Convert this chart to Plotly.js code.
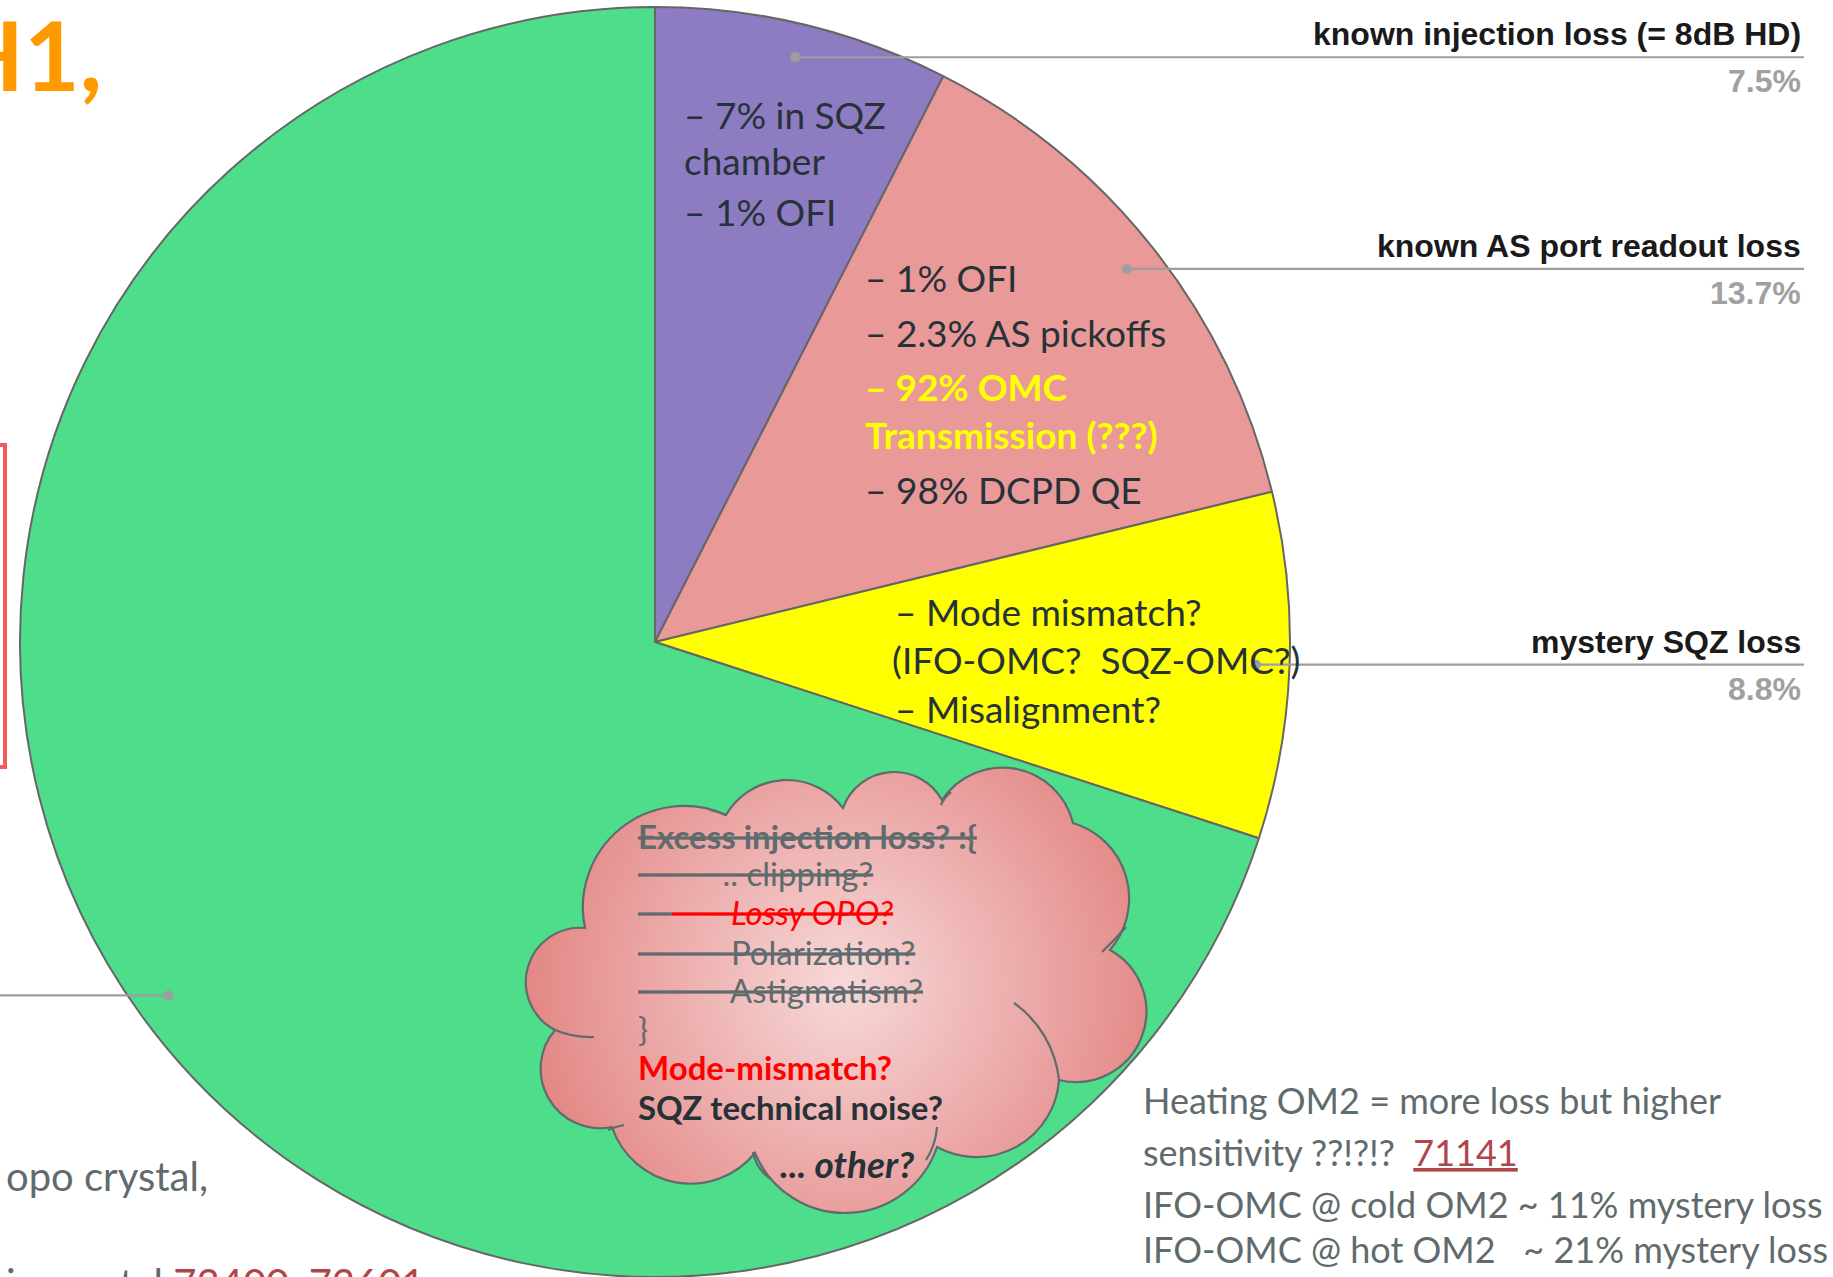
<!DOCTYPE html>
<html><head><meta charset="utf-8">
<script src="https://cdn.plot.ly/plotly-3.0.1.min.js"></script>
<style>html,body{margin:0;padding:0;background:#fff;overflow:hidden}#chart{width:1833px;height:1277px}</style>
</head><body><div id="chart"></div>
<script>
// ---------------- data ----------------
const sliceLabels = ['known injection loss (= 8dB HD)', 'known AS port readout loss', 'mystery SQZ loss', 'other'];
const sliceValues = [7.5, 13.7, 8.8, 70.0];
const sliceColors = ['#8e7cc3', '#ea9999', '#ffff00', '#4edd8b'];
const sliceLabelSide = ['right', 'right', 'right', 'left'];

const purpleNotes = ['– 7% in SQZ', 'chamber', '– 1% OFI'];
const pinkNotes = ['– 1% OFI', '– 2.3% AS pickoffs', '<b>– 92% OMC</b>', '<b>Transmission (???)</b>', '– 98% DCPD QE'];
const yellowNotes = ['– Mode mismatch?', '(IFO-OMC?\u00a0 SQZ-OMC?)', '– Misalignment?'];
const NB = n => '\u00a0'.repeat(n);
const cloudNotes = [
  '<b><s>Excess injection loss? :{</s></b>',
  '<s>' + NB(10) + '.. clipping?</s>',
  '<s>' + NB(4) + '</s><span style="color:#ff0000"><s>' + NB(7) + '<i>Lossy OPO?</i></s></span>',
  '<s>' + NB(11) + 'Polarization?</s>',
  '<s>' + NB(11) + 'Astigmatism?</s>',
  '}',
  '<b>Mode-mismatch?</b>',
  '<b>SQZ technical noise?</b>'
];
const cloudOther = '<b><i>... other?</i></b>';
const sideNotes = [
  'Heating OM2 = more loss but higher',
  'sensitivity ??!?!?\u00a0 <span style="color:#b0454a"><u>71141</u></span>',
  'IFO-OMC @ cold OM2 ~ 11% mystery loss',
  'IFO-OMC @ hot OM2' + NB(3) + '~ 21% mystery loss'
];
const leftNotes = ['opo crystal,', 'in crystal <span style="color:#b0454a"><u>73400, 73601</u></span>'];
const titleText = 'H1,';

// ---------------- layout helpers ----------------
const W = 1833, H = 1277;
const fx = x => x / W, fy = y => 1 - y / H;
const BODY = 'Lato, "Open Sans", sans-serif';
const ARIAL = '"Liberation Sans", Arial, sans-serif';
const DARK = '#263238', GREY = '#5f6b6d';

const dom = {x: [(655 - 636) / W, (655 + 636) / W], y: [0, 1270 / H]};
const cx = (dom.x[0] + dom.x[1]) / 2 * W;
const cy = H - (dom.y[0] + dom.y[1]) / 2 * H;
const R = Math.min((dom.x[1] - dom.x[0]) * W, (dom.y[1] - dom.y[0]) * H) / 2;

const annotations = [];
const shapes = [];
function note(text, x, y, size, color, anchor) {
  annotations.push({text: text, x: fx(x), y: fy(y), xref: 'paper', yref: 'paper',
    xanchor: anchor || 'left', yanchor: 'middle', showarrow: false, align: anchor || 'left',
    font: {family: BODY, size: size, color: color}});
}

// leader lines + labels, computed from the slice geometry
const total = sliceValues.reduce((a, b) => a + b, 0);
let cum = 0;
sliceValues.forEach((v, i) => {
  const mid = (cum + v / 2) / total * 2 * Math.PI;
  cum += v;
  const rr = 0.947 * R;
  const dx = cx + rr * Math.sin(mid), dy = cy - rr * Math.cos(mid);
  const xEnd = sliceLabelSide[i] === 'right' ? 1804 : -5;
  shapes.push({type: 'line', xref: 'paper', yref: 'paper', x0: fx(dx), y0: fy(dy), x1: fx(xEnd), y1: fy(dy),
    line: {color: '#9e9e9e', width: 2.2}});
  shapes.push({type: 'circle', xref: 'paper', yref: 'paper', x0: fx(dx - 5), x1: fx(dx + 5), y0: fy(dy + 5), y1: fy(dy - 5),
    fillcolor: '#9e9e9e', line: {width: 0}});
  if (sliceLabelSide[i] === 'right') {
    annotations.push({text: '<b>' + sliceLabels[i] + '</b>', x: fx(1803), y: fy(dy - 23), xref: 'paper', yref: 'paper',
      xanchor: 'right', yanchor: 'middle', showarrow: false, font: {family: ARIAL, size: 32, color: '#1a1a1a'}});
    annotations.push({text: '<b>' + (v / total * 100).toFixed(1) + '%</b>', x: fx(1803), y: fy(dy + 24), xref: 'paper', yref: 'paper',
      xanchor: 'right', yanchor: 'middle', showarrow: false, font: {family: ARIAL, size: 32, color: '#a0a0a0'}});
  }
});

// text inside slices
const purpleY = [114, 160, 211];
purpleNotes.forEach((t, i) => note(t, 682, purpleY[i], 37, DARK));
const pinkY = [277, 333, 386, 434, 489];
const pinkC = [DARK, DARK, '#ffff00', '#ffff00', DARK];
pinkNotes.forEach((t, i) => note(t, 863, pinkY[i], 37, pinkC[i]));
const yellowY = [611, 659, 708];
const yellowX = [893, 890, 893];
yellowNotes.forEach((t, i) => note(t, yellowX[i], yellowY[i], 37, DARK));

// cloud text
const cloudY = [836, 873, 912, 952, 990, 1028, 1067, 1107];
const cloudC = [GREY, GREY, GREY, GREY, GREY, GREY, '#ff0000', DARK];
cloudNotes.forEach((t, i) => note(t, 636, cloudY[i], 33, cloudC[i]));
note(cloudOther, 778, 1163, 37, DARK);

// side notes
const sideY = [1100, 1152, 1204, 1249];
sideNotes.forEach((t, i) => note(t, 1141, sideY[i], 36, GREY));
const leftY = [1176, 1283];
leftNotes.forEach((t, i) => note(t, 4, leftY[i], 40, GREY));

// title fragment
annotations.push({text: '<b>' + titleText + '</b>', x: fx(104), y: fy(54), xref: 'paper', yref: 'paper',
  xanchor: 'right', yanchor: 'middle', showarrow: false, font: {family: BODY, size: 96, color: '#ff9900'}});

// red box at left
shapes.push({type: 'rect', xref: 'paper', yref: 'paper', x0: fx(-30), x1: fx(5), y0: fy(767), y1: fy(445),
  line: {color: '#f05c5c', width: 4}});

// ---------------- cloud decoration ----------------
function circ(p1, p2, p3) {
  const [x1, y1] = p1, [x2, y2] = p2, [x3, y3] = p3;
  const d = 2 * (x1 * (y2 - y3) + x2 * (y3 - y1) + x3 * (y1 - y2));
  if (Math.abs(d) < 1e-6) return null;
  const s1 = x1 * x1 + y1 * y1, s2 = x2 * x2 + y2 * y2, s3 = x3 * x3 + y3 * y3;
  const ux = (s1 * (y2 - y3) + s2 * (y3 - y1) + s3 * (y1 - y2)) / d;
  const uy = (s1 * (x3 - x2) + s2 * (x1 - x3) + s3 * (x2 - x1)) / d;
  return {cx: ux, cy: uy, r: Math.hypot(x1 - ux, y1 - uy)};
}
function arc(p1, pm, p2) {
  const c = circ(p1, pm, p2);
  if (!c) return 'L' + p2[0] + ',' + p2[1];
  const T = 2 * Math.PI, m = a => ((a % T) + T) % T;
  const a1 = Math.atan2(p1[1] - c.cy, p1[0] - c.cx), am = Math.atan2(pm[1] - c.cy, pm[0] - c.cx), a2 = Math.atan2(p2[1] - c.cy, p2[0] - c.cx);
  const d12 = m(a2 - a1), d1m = m(am - a1);
  let sweep, len;
  if (d1m < d12) { sweep = 1; len = d12; } else { sweep = 0; len = T - d12; }
  const large = len > Math.PI ? 1 : 0;
  return 'A' + c.r.toFixed(2) + ',' + c.r.toFixed(2) + ' 0 ' + large + ' ' + sweep + ' ' + p2[0] + ',' + p2[1];
}
const J = [[555, 1030], [585, 928], [726, 815], [843, 808], [942, 800], [1073, 823], [1110, 950], [1059, 1080], [937, 1147], [755, 1153], [612, 1127]];
const P = [[526, 977], [628, 823], [787, 780], [895, 772], [1010, 768], [1128, 885], [1143, 990], [1010, 1150], [845, 1213], [680, 1183], [541, 1075]];
let dPath = 'M' + J[0][0] + ',' + J[0][1];
for (let i = 0; i < J.length; i++) dPath += arc(J[i], P[i], J[(i + 1) % J.length]);
dPath += 'Z';
const inner = [
  [[555, 1030], [571, 1035], [594, 1037]],
  [[608, 1130], [616, 1127], [624, 1125]],
  [[753, 1152], [759, 1167], [771, 1179]],
  [[937, 1127], [934, 1143], [926, 1160]],
  [[1014, 1003], [1045, 1037], [1059, 1080]],
  [[1102, 952], [1114, 940], [1126, 927]],
  [[941, 805], [945, 798], [951, 792]],
  [[726, 815], [718, 812], [710, 810]]
];
let dInner = '';
inner.forEach(a => { dInner += 'M' + a[0][0] + ',' + a[0][1] + arc(a[0], a[1], a[2]); });
const svg = '<svg xmlns="http://www.w3.org/2000/svg" width="' + W + '" height="' + H + '" viewBox="0 0 ' + W + ' ' + H + '">' +
  '<defs><radialGradient id="g" gradientUnits="userSpaceOnUse" cx="845" cy="985" r="320">' +
  '<stop offset="0" stop-color="#f7d9d9"/><stop offset="1" stop-color="#e38785"/></radialGradient></defs>' +
  '<path d="' + dPath + '" fill="url(#g)" stroke="#5f6b6d" stroke-width="2.2"/>' +
  '<path d="' + dInner + '" fill="none" stroke="#5f6b6d" stroke-width="2.2"/></svg>';
const cloudImg = {source: 'data:image/svg+xml;charset=utf-8,' + encodeURIComponent(svg),
  xref: 'paper', yref: 'paper', x: 0, y: 1, sizex: 1, sizey: 1, xanchor: 'left', yanchor: 'top',
  sizing: 'stretch', layer: 'above'};

// ---------------- plot ----------------
const trace = {
  type: 'pie', labels: sliceLabels, values: sliceValues, sort: false, direction: 'clockwise', rotation: 0,
  marker: {colors: sliceColors, line: {color: '#666666', width: 2}},
  textinfo: 'none', hoverinfo: 'none', showlegend: false, domain: dom
};
const layout = {
  width: W, height: H, margin: {l: 0, r: 0, t: 0, b: 0}, paper_bgcolor: '#ffffff', showlegend: false,
  annotations: annotations, shapes: shapes, images: [cloudImg]
};
Plotly.newPlot('chart', [trace], layout, {displayModeBar: false, staticPlot: true});
</script></body></html>
